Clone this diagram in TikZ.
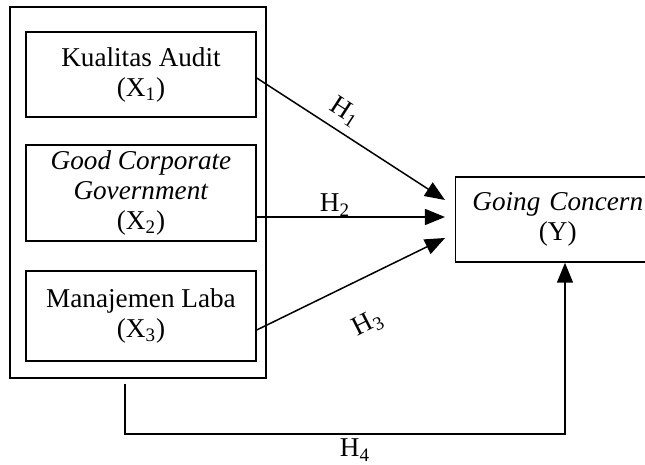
\documentclass[tikz,border=0pt]{standalone}
\usepackage{fontspec}
\setmainfont{Liberation Serif}
\usepackage{tikz}
\usetikzlibrary{
    positioning,
    calc,
    arrows.meta
}
\tikzset{
  basic/.style = {
      draw,
      line width=0.75pt,
      rectangle,
      align=center,
      inner sep=2pt,
      font=\fontsize{13.6}{15}\selectfont
  },
  varbox/.style = {
      basic,
      minimum width=115pt
  },
  outer/.style = {
      draw,
      line width=0.75pt,
      rectangle,
      minimum width=128pt,
      minimum height=185.5pt
  },
  arr/.style = {
      line width=0.75pt,
      -{Triangle[length=10pt,width=8pt]}
  },
  hyp/.style = {
      font=\fontsize{13.6}{15}\selectfont,
      inner sep=1pt
  }
}

\begin{document}
\begin{tikzpicture}[x=0.5pt, y=-0.5pt]
    \useasboundingbox (0,0) rectangle (645,465);
    \node[outer] (grp) at (138,192.5) {};
    \node[varbox, minimum height=42.5pt] (x1) at (141,74.5) {Kualitas Audit\\(X\textsubscript{1})};
    \node[varbox, minimum height=48pt] (x2) at (141,193) {\textit{Good Corporate}\\\textit{Government}\\(X\textsubscript{2})};
    \node[varbox, minimum height=45pt] (x3) at (141,316) {Manajemen Laba\\(X\textsubscript{3})};
    \node[basic, text width=98pt, minimum height=42.5pt, anchor=west] (y) at (455,219.5) {\textit{Going Concern}\\(Y)};
    % Arrow tips
    \coordinate (t1) at (445,200);
    \coordinate (t2) at (445,217);
    \coordinate (t3) at (445,238);
    \coordinate (h4) at (125,434);
    \coordinate (h4e) at (565,434);
    % Edges
    \draw[arr] ([yshift=-1.75pt]x1.east) -- (t1);
    \draw[arr] (x2.east |- t2) -- (t2);
    \draw[arr] ([yshift=-7pt]x3.east) -- (t3);
    \draw[arr] ([yshift=-2.5pt]grp.south -| h4) -- (h4) -- (h4e) -- (h4e |- y.south);
    % Labels
    \node[hyp, rotate=-33] (h1) at (345,112) {H\textsubscript{1}};
    \node[hyp] (h2) at (335,205) {H\textsubscript{2}};
    \node[hyp, rotate=27] (h3) at (368,324) {H\textsubscript{3}};
    \node[hyp] (h4l) at (355,450) {H\textsubscript{4}};
\end{tikzpicture}
\end{document}
